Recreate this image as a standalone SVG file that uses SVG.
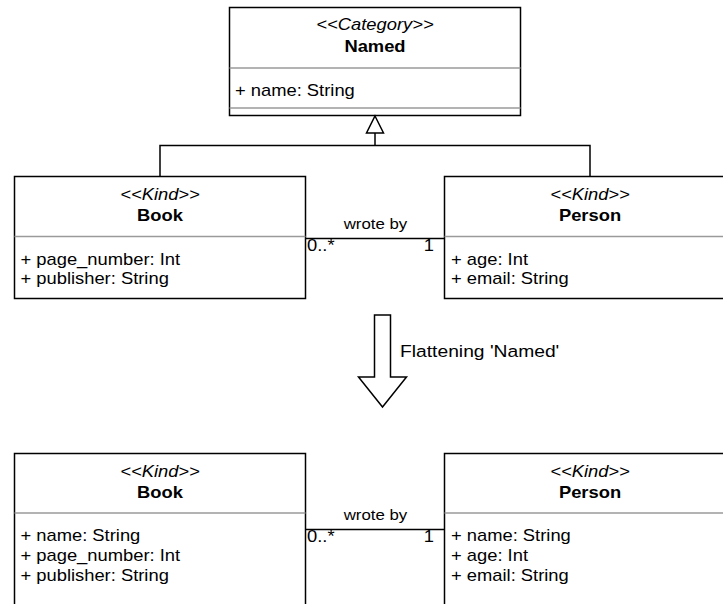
<svg xmlns="http://www.w3.org/2000/svg" width="723" height="604" viewBox="0 0 723 604">
<style>
  text { font-family: "Liberation Sans", Arial, sans-serif; fill: #000; }
  .st { font-size: 16.2px; font-style: italic; text-anchor: middle; }
  .nm { font-size: 16.2px; font-weight: bold; text-anchor: middle; }
  .at { font-size: 16.2px; }
  .lb { font-size: 14.85px; text-anchor: middle; }
  .mul { font-size: 16.2px; }
  .mulr { font-size: 16.2px; text-anchor: end; }
  .box { fill: #fff; stroke: #000; stroke-width: 1.5; }
  .sep { stroke: #9a9a9a; stroke-width: 1.5; fill: none; }
  .edge { stroke: #000; stroke-width: 1.5; fill: none; }
</style>

<g id="named">
  <rect class="box" x="229.5" y="7.5" width="291" height="108"/>
  <line class="sep" x1="229.5" y1="68" x2="520.5" y2="68"/>
  <line class="sep" x1="229.5" y1="108" x2="520.5" y2="108"/>
  <text class="st" transform="translate(375 30) scale(1.133 1)">&lt;&lt;Category&gt;&gt;</text>
  <text class="nm" transform="translate(375 52) scale(1.133 1)">Named</text>
  <text class="at" transform="translate(235 95.5) scale(1.133 1)">+ name: String</text>
</g>

<g id="book1">
  <rect class="box" x="14.5" y="176.5" width="291" height="122"/>
  <line class="sep" x1="14.5" y1="236.5" x2="305.5" y2="236.5"/>
  <text class="st" transform="translate(160 200) scale(1.133 1)">&lt;&lt;Kind&gt;&gt;</text>
  <text class="nm" transform="translate(160 221) scale(1.133 1)">Book</text>
  <text class="at" transform="translate(20.5 264.5) scale(1.133 1)">+ page_number: Int</text>
  <text class="at" transform="translate(20.5 284) scale(1.133 1)">+ publisher: String</text>
</g>

<g id="person1">
  <rect class="box" x="444.5" y="176.5" width="291" height="122"/>
  <line class="sep" x1="444.5" y1="236.5" x2="735.5" y2="236.5"/>
  <text class="st" transform="translate(590 200) scale(1.133 1)">&lt;&lt;Kind&gt;&gt;</text>
  <text class="nm" transform="translate(590 221) scale(1.133 1)">Person</text>
  <text class="at" transform="translate(451 264.5) scale(1.133 1)">+ age: Int</text>
  <text class="at" transform="translate(451 284) scale(1.133 1)">+ email: String</text>
</g>

<g id="book2">
  <rect class="box" x="14.5" y="453.5" width="291" height="170"/>
  <line class="sep" x1="14.5" y1="513" x2="305.5" y2="513"/>
  <text class="st" transform="translate(160 477) scale(1.133 1)">&lt;&lt;Kind&gt;&gt;</text>
  <text class="nm" transform="translate(160 498) scale(1.133 1)">Book</text>
  <text class="at" transform="translate(20.5 540.5) scale(1.133 1)">+ name: String</text>
  <text class="at" transform="translate(20.5 560.5) scale(1.133 1)">+ page_number: Int</text>
  <text class="at" transform="translate(20.5 580.5) scale(1.133 1)">+ publisher: String</text>
</g>

<g id="person2">
  <rect class="box" x="444.5" y="453.5" width="291" height="170"/>
  <line class="sep" x1="444.5" y1="513" x2="735.5" y2="513"/>
  <text class="st" transform="translate(590 477) scale(1.133 1)">&lt;&lt;Kind&gt;&gt;</text>
  <text class="nm" transform="translate(590 498) scale(1.133 1)">Person</text>
  <text class="at" transform="translate(451 540.5) scale(1.133 1)">+ name: String</text>
  <text class="at" transform="translate(451 560.5) scale(1.133 1)">+ age: Int</text>
  <text class="at" transform="translate(451 580.5) scale(1.133 1)">+ email: String</text>
</g>

<g id="flatten">
  <polygon points="374.5,315 390.5,315 390.5,377 406.5,377 382.5,407 358.5,377 374.5,377" fill="#fff" stroke="#000" stroke-width="1.5"/>
  <text class="at" style="font-size:17px" transform="translate(400 356.5) scale(1.133 1)">Flattening 'Named'</text>
</g>

<g id="connectors">
  <path class="edge" d="M160 176.5 V145.5 H590 V176.5"/>
  <path class="edge" d="M375 145.5 V133"/>
  <polygon points="375,116 383.5,133 366.5,133" fill="#fff" stroke="#000" stroke-width="1.5"/>
  <line class="edge" x1="305.5" y1="238.5" x2="444.5" y2="238.5"/>
  <text class="lb" transform="translate(375.5 229) scale(1.133 1)">wrote by</text>
  <text class="mul" transform="translate(307 251) scale(1.133 1)">0..*</text>
  <text class="mulr" transform="translate(434 251) scale(1.133 1)">1</text>
  <line class="edge" x1="305.5" y1="529.5" x2="444.5" y2="529.5"/>
  <text class="lb" transform="translate(375.5 520) scale(1.133 1)">wrote by</text>
  <text class="mul" transform="translate(307 542) scale(1.133 1)">0..*</text>
  <text class="mulr" transform="translate(434 542) scale(1.133 1)">1</text>
</g>
</svg>
